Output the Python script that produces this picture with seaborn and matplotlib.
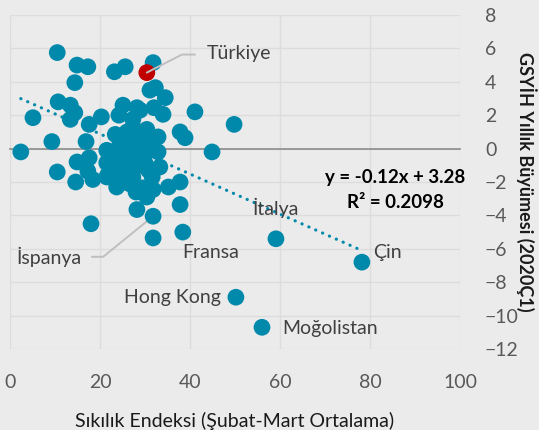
import pandas as pd
import seaborn as sns
import matplotlib.pyplot as plt
from matplotlib.ticker import MultipleLocator

# Data: stringency index (x) vs GDP growth 2020Q1 (y)
sikilik = [10.5, 14.9, 17.3, 23.2, 25.6, 31.8, 14.4, 10.7, 13.4, 14.4,
           13.4, 5.1, 9.3, 16.9, 17.6, 20.3, 2.4, 14.9, 17.6, 17.3,
           18.4, 14.6, 10.5, 18.0, 31.1, 32.3, 34.5, 34.0, 32.0, 41.1,
           25.1, 28.2, 28.9, 24.2, 27.3, 30.4, 32.9, 37.8, 38.9, 49.8,
           23.4, 27.3, 27.3, 26.6, 25.3, 44.9, 32.9, 33.3, 21.5, 24.4,
           27.3, 25.1, 28.2, 21.5, 26.6, 28.9, 30.0, 25.1, 21.8, 21.5,
           26.6, 25.1, 27.3, 31.6, 23.7, 29.4, 31.8, 35.2, 37.8, 30.4,
           28.2, 37.8, 31.8, 31.8, 38.4, 59.1, 78.2, 50.2, 56.0,
           29.0, 26.0, 30.5, 23.0, 29.5, 26.5, 30.8, 22.8, 28.0, 30.0]
buyume = [5.75, 5.0, 4.9, 4.6, 4.9, 5.15, 3.95, 2.8, 2.6, 2.15,
          1.75, 1.85, 0.42, 0.42, 1.45, 1.9, -0.2, -0.8, -0.55, -1.35,
          -1.85, -2.0, -1.4, -4.5, 3.5, 3.65, 3.05, 2.05, 2.45, 2.2,
          2.6, 2.45, 2.3, 2.0, 1.75, 1.15, 0.7, 1.0, 0.65, 1.45,
          0.85, 1.3, 0.55, 0.42, 0.12, -0.2, -0.2, -1.1, -0.1, 0.25,
          -0.1, -0.25, -0.05, -0.85, -0.85, -1.0, -0.85, -1.15, -1.55, -1.7,
          -1.4, -1.75, -1.7, -1.7, -2.3, -2.35, -2.45, -2.3, -2.0, -2.9,
          -3.65, -3.35, -4.05, -5.35, -5.0, -5.4, -6.8, -8.9, -10.7,
          0.9, 1.0, 0.2, -0.5, -0.4, -2.1, -1.3, -1.0, -2.6, 0.5]

# Türkiye is highlighted in red
turkiye_x = [30.4]
turkiye_y = [4.55]

# Country labels: text, anchor (x, y), alignment
ulke_adlari = ['Türkiye', 'İspanya', 'Fransa', 'İtalya', 'Çin', 'Hong Kong', 'Moğolistan']
etiket_x = [43.8, 16.0, 44.7, 59.1, 80.7, 46.9, 60.4]
etiket_y = [5.7, -6.48, -6.23, -3.58, -6.23, -8.92, -10.75]
etiket_ha = ['left', 'right', 'center', 'center', 'left', 'right', 'left']

# Leader lines (Türkiye and İspanya)
turkiye_cizgi_x = [30.4, 38.2, 41.1]
turkiye_cizgi_y = [4.55, 5.63, 5.63]
ispanya_cizgi_x = [18.2, 20.7, 31.8]
ispanya_cizgi_y = [-6.48, -6.48, -4.05]

# Excel linear trendline shown on the chart
egim = -0.12
sabit = 3.28

df = pd.DataFrame({'x': sikilik, 'y': buyume})
df_tr = pd.DataFrame({'x': turkiye_x, 'y': turkiye_y})

mavi = '#0089AB'
kirmizi = '#C00000'
arka = '#EBEBEB'

sns.set_theme(style='white')
plt.rcParams['font.family'] = ['Lato', 'DejaVu Sans']

fig = plt.figure(figsize=(5.39, 4.30), dpi=100, facecolor=arka)
ax = fig.add_axes([10 / 539, 1 - 349 / 430, 450 / 539, 334 / 430])
ax.set_facecolor(arka)

# Trendline over the data range
x_min, x_max = df['x'].min(), df['x'].max()
ax.plot([x_min, x_max], [sabit + egim * x_min, sabit + egim * x_max],
        color=mavi, linewidth=2.3, linestyle=(0, (0.05, 2.3)),
        dash_capstyle='round', zorder=2)

sns.scatterplot(data=df, x='x', y='y', color=mavi, s=145, edgecolor='none',
                linewidth=0, legend=False, ax=ax, zorder=3)
sns.scatterplot(data=df_tr, x='x', y='y', color=kirmizi, s=145, edgecolor='none',
                linewidth=0, legend=False, ax=ax, zorder=4)

# Leader lines and labels
ax.plot(turkiye_cizgi_x, turkiye_cizgi_y, color='#BFBFBF', linewidth=1.4, zorder=5)
ax.plot(ispanya_cizgi_x, ispanya_cizgi_y, color='#BFBFBF', linewidth=1.4, zorder=2)
for ad, tx, ty, ha in zip(ulke_adlari, etiket_x, etiket_y, etiket_ha):
    ax.text(tx, ty, ad, ha=ha, va='center', fontsize=14, color='#404040', zorder=5)

ax.text(85.6, -1.72, f'y = {egim:.2f}x + {sabit:.2f}', ha='center', va='center',
        fontsize=13.5, fontweight='bold', color='black')
ax.text(85.6, -3.23, 'R² = 0.2098', ha='center', va='center',
        fontsize=13.5, fontweight='bold', color='black')

# Axes limits and grid
ax.set_xlim(0, 100)
ax.set_ylim(-12, 8)
ax.xaxis.set_major_locator(MultipleLocator(20))
ax.yaxis.set_major_locator(MultipleLocator(2))
ax.grid(True, color='#DCDCDC', linewidth=1.0)
ax.set_axisbelow(True)

for side in ['top', 'left', 'right']:
    ax.spines[side].set_visible(False)

# Horizontal axis line through zero with tick marks, labels stay at the bottom
ax.spines['bottom'].set_position(('data', 0))
ax.spines['bottom'].set_color('#8C8C8C')
ax.spines['bottom'].set_linewidth(1.2)
ax.tick_params(axis='x', direction='out', length=5, width=1.2, color='#8C8C8C',
               labelbottom=False)
ax.set_xlabel('')

alt = ax.secondary_xaxis(0)
alt.xaxis.set_major_locator(MultipleLocator(20))
alt.spines['bottom'].set_visible(False)
alt.tick_params(axis='x', length=0, pad=18, labelsize=14, labelcolor='#595959')
alt.set_xlabel('Sıkılık Endeksi (Şubat-Mart Ortalama)', fontsize=14,
               color='#1A1A1A', labelpad=15)

# Y axis on the right
ax.yaxis.tick_right()
ax.tick_params(axis='y', length=0, pad=18, labelsize=14, labelcolor='#595959')
ax.set_ylabel('GSYİH Yıllık Büyümesi (2020Ç1)', rotation=270, fontsize=13,
              fontweight='bold', color='#1A1A1A')
ax.yaxis.set_label_position('right')
ax.yaxis.label.set_verticalalignment('bottom')
ax.yaxis.set_label_coords(1.125, 0.5)

plt.savefig('out.png', dpi=100, facecolor=arka)
